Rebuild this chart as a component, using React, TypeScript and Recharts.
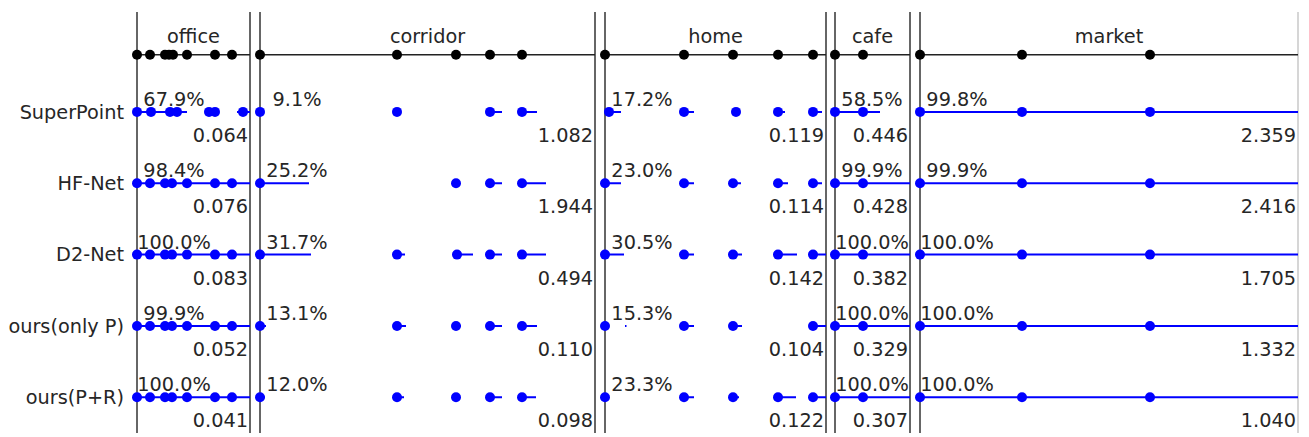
import React from 'react';
import { ComposedChart, XAxis, YAxis, Line, Scatter, ReferenceLine } from 'recharts';

// ---------- data ----------
const scenes = ['office', 'corridor', 'home', 'cafe', 'market'];
// timeline length of each scene (time units)
const sceneLength = [113, 335, 221, 75, 378];
const methods = ['SuperPoint', 'HF-Net', 'D2-Net', 'ours(only P)', 'ours(P+R)'];

// ground-truth keyframe times per scene (black dots)
const keyframes = [
  [0, 13, 28, 32, 36, 50, 78, 95],
  [0, 137, 196, 230, 262],
  [0, 79, 128, 173, 208],
  [0, 28],
  [0, 102, 230],
];

// relocalization times (blue dots) per scene
const superPointDots = [
  [0, 14, 33, 40, 72, 78, 106],
  [0, 137, 230, 262],
  [4, 79, 131, 173, 208],
  [0, 28],
  [0, 102, 230],
];
const hfNetDots = [
  [0, 13, 28, 35, 50, 78, 95],
  [0, 196, 230, 262],
  [0, 79, 128, 173, 208],
  [0, 28],
  [0, 102, 230],
];
const d2NetDots = [
  [0, 13, 28, 35, 50, 78, 95],
  [0, 137, 197, 230, 262],
  [0, 79, 128, 173, 208],
  [0, 28],
  [0, 102, 230],
];
const oursPDots = [
  [0, 13, 28, 35, 50, 78, 95],
  [0, 137, 196, 230, 262],
  [0, 79, 128, 208],
  [0, 28],
  [0, 102, 230],
];
const oursPRDots = [
  [0, 13, 28, 35, 50, 78, 95],
  [0, 137, 196, 230, 262],
  [0, 79, 128, 173, 208],
  [0, 28],
  [0, 102, 230],
];

// tracked intervals [start, end] per scene (blue lines)
const superPointSegs = [
  [[0, 50], [68, 82], [100, 113]],
  [[230, 242], [262, 277]],
  [[4, 16], [79, 89], [173, 180], [208, 217]],
  [[0, 45]],
  [[0, 378]],
];
const hfNetSegs = [
  [[0, 113]],
  [[0, 49], [230, 242], [262, 286]],
  [[0, 16], [79, 89], [128, 136], [173, 183], [208, 217]],
  [[0, 75]],
  [[0, 378]],
];
const d2NetSegs = [
  [[0, 113]],
  [[0, 51], [137, 145], [197, 213], [230, 242], [262, 286]],
  [[0, 19], [79, 89], [128, 137], [173, 192], [208, 221]],
  [[0, 75]],
  [[0, 378]],
];
const oursPSegs = [
  [[0, 113]],
  [[0, 6], [137, 146], [196, 201], [230, 242], [262, 277]],
  [[20, 21.5], [79, 89], [128, 137], [208, 221]],
  [[0, 75]],
  [[0, 378]],
];
const oursPRSegs = [
  [[0, 113]],
  [[0, 5], [137, 144], [230, 242], [262, 276]],
  [[79, 89], [128, 134], [173, 191], [208, 221]],
  [[0, 75]],
  [[0, 378]],
];

// success rate (%) per scene
const superPointRate = [67.9, 9.1, 17.2, 58.5, 99.8];
const hfNetRate = [98.4, 25.2, 23.0, 99.9, 99.9];
const d2NetRate = [100.0, 31.7, 30.5, 100.0, 100.0];
const oursPRate = [99.9, 13.1, 15.3, 100.0, 100.0];
const oursPRRate = [100.0, 12.0, 23.3, 100.0, 100.0];

// error per scene
const superPointErr = [0.064, 1.082, 0.119, 0.446, 2.359];
const hfNetErr = [0.076, 1.944, 0.114, 0.428, 2.416];
const d2NetErr = [0.083, 0.494, 0.142, 0.382, 1.705];
const oursPErr = [0.052, 0.11, 0.104, 0.329, 1.332];
const oursPRErr = [0.041, 0.098, 0.122, 0.307, 1.04];

const methodDots = [superPointDots, hfNetDots, d2NetDots, oursPDots, oursPRDots];
const methodSegs = [superPointSegs, hfNetSegs, d2NetSegs, oursPSegs, oursPRSegs];
const methodRate = [superPointRate, hfNetRate, d2NetRate, oursPRate, oursPRRate];
const methodErr = [superPointErr, hfNetErr, d2NetErr, oursPErr, oursPRErr];

const rowY = [5, 4, 3, 2, 1];
const GT_Y = 5.8;

// ---------- layout / style ----------
const Y_DOMAIN: [number, number] = [0.5, 6.4];
const PANEL_LEFT = [137, 260, 605, 835, 920];
const PAD = 8;
const HEIGHT = 437;
const TOP = 12;
const BOTTOM = 4;
const FONT = 'DejaVu Sans, sans-serif';
const FS = 19.3;
const TXT = '#262626';
const BLUE = '#0000ff';

const dotShape = (color: string) => (p: any) => (
  <circle cx={p.cx} cy={p.cy} r={5} fill={color} />
);

const textShape = (dx: number, dy: number, anchor: string) => (p: any) => (
  <text
    x={p.cx + dx}
    y={p.cy + dy}
    textAnchor={anchor}
    fontSize={FS}
    fontFamily={FONT}
    fill={TXT}
  >
    {p.payload.label}
  </text>
);

function Panel({ i }: { i: number }) {
  const len = sceneLength[i];
  const first = i === 0;
  const yAxisW = first ? PANEL_LEFT[0] - PAD : 0;
  const width = len + 2 * PAD + yAxisW;
  const left = first ? 0 : PANEL_LEFT[i] - PAD;

  const gtData = keyframes[i].map((t) => ({ t, y: GT_Y }));
  const titleData = [{ t: len / 2, y: GT_Y, label: scenes[i] }];

  return (
    <div style={{ position: 'absolute', left, top: 0 }}>
      <ComposedChart
        width={width}
        height={HEIGHT}
        margin={{ top: TOP, bottom: BOTTOM, left: PAD, right: PAD }}
      >
        <XAxis type="number" dataKey="t" domain={[0, len]} hide />
        <YAxis
          type="number"
          dataKey="y"
          domain={Y_DOMAIN}
          ticks={rowY}
          interval={0}
          hide={!first}
          width={first ? yAxisW : 0}
          axisLine={false}
          tickLine={false}
          tickSize={6}
          tickMargin={7}
          tickFormatter={(v: number) => methods[rowY.indexOf(v)]}
          tick={{ fontSize: FS, fill: TXT, fontFamily: FONT }}
        />
        <ReferenceLine x={0} stroke="#333" strokeWidth={1.5} />
        <ReferenceLine x={len} stroke={i === 4 ? '#c8c8c8' : '#333'} strokeWidth={1.5} />
        <ReferenceLine y={GT_Y} stroke="#222" strokeWidth={1.5} />
        {methods.map((m, k) => {
          const data: any[] = [];
          methodSegs[k][i].forEach(([a, b]) => {
            if (b <= a) return;
            data.push({ t: a, y: rowY[k] }, { t: b, y: rowY[k] }, { t: b, y: null });
          });
          return (
            <Line
              key={'l' + m}
              data={data}
              dataKey="y"
              type="linear"
              stroke={BLUE}
              strokeWidth={2}
              dot={false}
              activeDot={false}
              connectNulls={false}
              isAnimationActive={false}
            />
          );
        })}
        <Scatter data={gtData} shape={dotShape('#000')} isAnimationActive={false} />
        {methods.map((m, k) => (
          <Scatter
            key={'d' + m}
            data={methodDots[k][i].map((t) => ({ t, y: rowY[k] }))}
            shape={dotShape(BLUE)}
            isAnimationActive={false}
          />
        ))}
        <Scatter data={titleData} shape={textShape(0, -12, 'middle')} isAnimationActive={false} />
        {methods.map((m, k) => (
          <Scatter
            key={'p' + m}
            data={[{ t: 0, y: rowY[k], label: methodRate[k][i].toFixed(1) + '%' }]}
            shape={textShape(37, -6, 'middle')}
            isAnimationActive={false}
          />
        ))}
        {methods.map((m, k) => (
          <Scatter
            key={'e' + m}
            data={[{ t: len, y: rowY[k], label: methodErr[k][i].toFixed(3) }]}
            shape={textShape(-2, 30, 'end')}
            isAnimationActive={false}
          />
        ))}
      </ComposedChart>
    </div>
  );
}

export default function App() {
  return (
    <div
      style={{
        position: 'absolute',
        left: 0,
        top: 0,
        width: 1309,
        height: 437,
        background: '#fff',
        fontFamily: FONT,
      }}
    >
      {scenes.map((s, i) => (
        <Panel key={s} i={i} />
      ))}
    </div>
  );
}
